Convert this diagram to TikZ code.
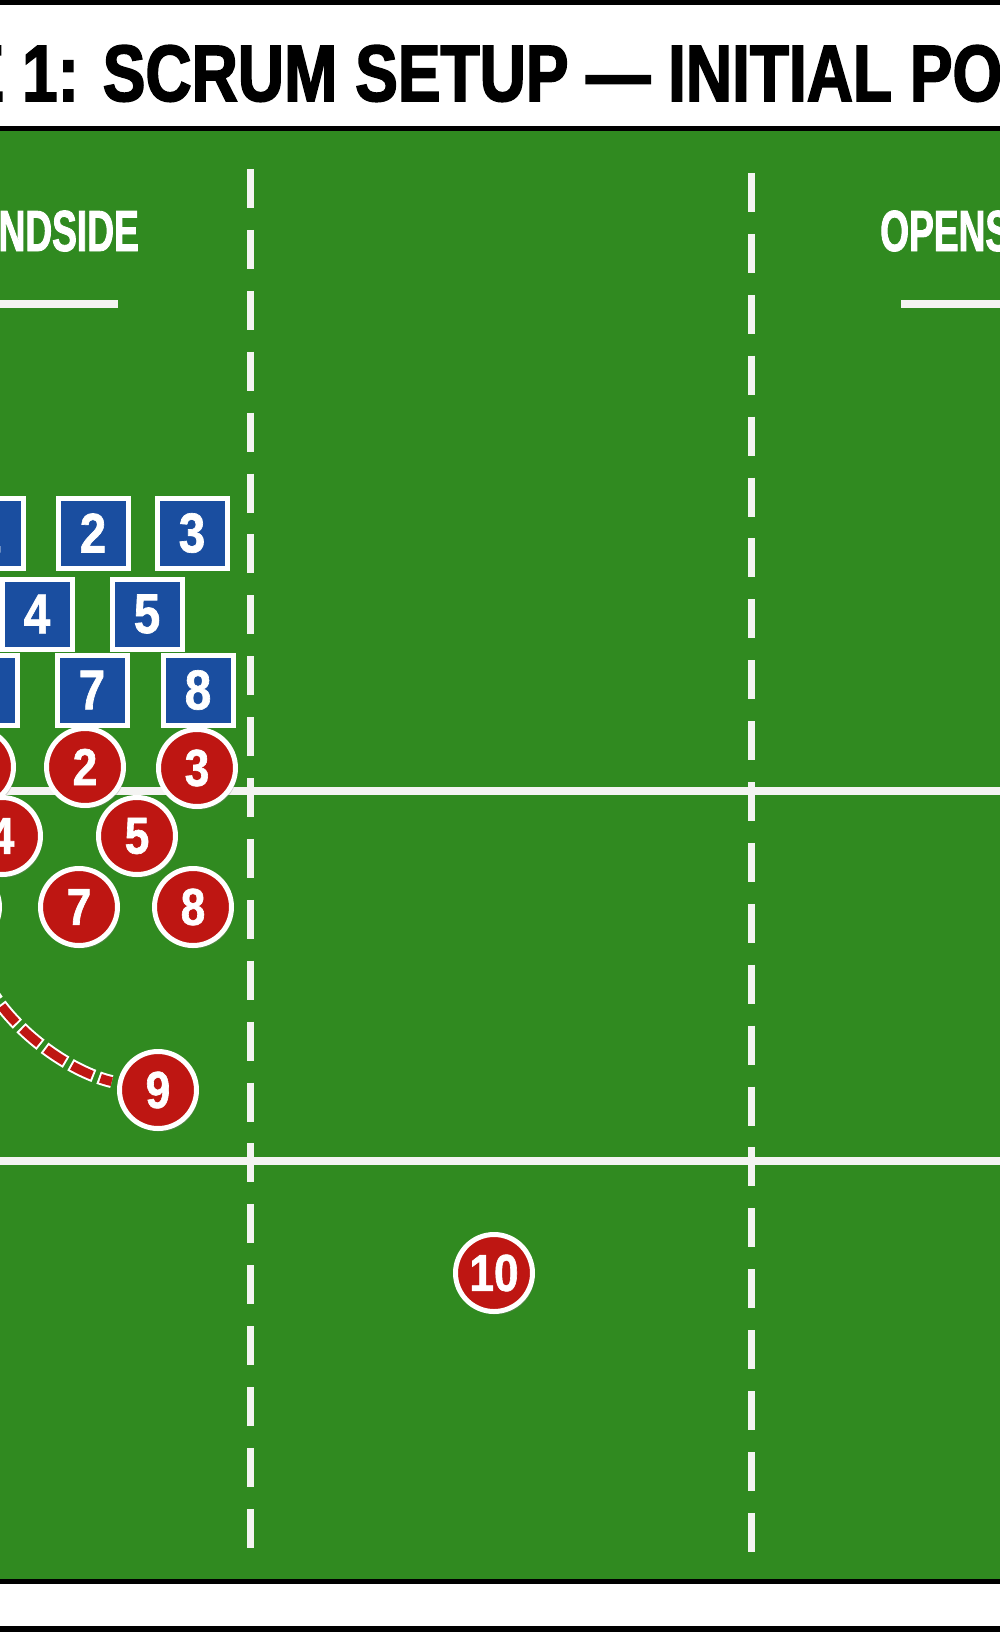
\documentclass[tikz,border=0pt]{standalone}
\usepackage{fontspec}
\setmainfont{Liberation Sans}
\newfontfamily\titlefont[FakeStretch=0.80, FakeBold=2]{Liberation Sans}
\newfontfamily\sidefont[FakeStretch=0.64, FakeBold=1.5]{Liberation Sans}
\newfontfamily\numfont[FakeStretch=0.85, FakeBold=1.2]{Liberation Sans}
\usetikzlibrary{shadows}
\definecolor{pitch}{RGB}{48,138,32}
\definecolor{chalk}{RGB}{244,244,242}
\definecolor{scrumblue}{RGB}{26,78,160}
\definecolor{scrumred}{RGB}{190,22,18}
\tikzset{%
  % Specifications for style of nodes:
            base1/.style = {draw=white, line width=5pt, inner sep=0pt,
                           text=white,
                           drop shadow={shadow xshift=2pt, shadow yshift=-3pt, opacity=.35}},
       bluebox/.style = {base1, rectangle, minimum size=70pt, fill=scrumblue,
                           font=\numfont\bfseries\fontsize{56}{56}\selectfont},
       redball/.style = {base1, circle, minimum size=77pt, fill=scrumred,
                           font=\numfont\bfseries\fontsize{52}{52}\selectfont},
       sidelabel/.style = {inner sep=0pt, text=white,
                           font=\sidefont\bfseries\fontsize{58}{58}\selectfont},
       fieldline/.style = {draw=chalk, line width=8pt},
       tenline/.style = {draw=chalk, line width=7pt, dash pattern=on 39pt off 21.9pt},
       runline/.style = {draw=scrumred, line width=9pt, dash pattern=on 22pt off 9pt,
                           preaction={draw=white, line width=13pt,
                           dash pattern=on 26pt off 5pt, dash phase=2pt}}
}

\begin{document}
\begin{tikzpicture}[x=1pt, y=-1pt]
  \useasboundingbox (0,0) rectangle (1000,1632);
  \clip (0,0) rectangle (1000,1632);
  % Frame and pitch
  \fill[white] (0,0) rectangle (1000,1632);
  \fill[black] (0,0) rectangle (1000,5);
  \fill[black] (0,126) rectangle (1000,131);
  \fill[pitch] (0,131) rectangle (1000,1579);
  \fill[black] (0,1579) rectangle (1000,1584);
  \fill[black] (0,1626) rectangle (1000,1632);
  \node (title) [anchor=base west, inner sep=0pt,
    font=\titlefont\bfseries\fontsize{80}{80}\selectfont] at (22,101)
    {\llap{PHASE\ }1: SCRUM SETUP — INITIAL POSITIONS};
  % Pitch markings
  \draw[fieldline] (0,791) -- (1000,791);
  \draw[fieldline] (0,1161) -- (1000,1161);
  \draw[tenline] (250,169) -- (250,1550);
  \draw[tenline] (751,173) -- (751,1554);
  \node (blindside) [sidelabel, anchor=base east] at (139,251) {BLINDSIDE};
  \node (openside)  [sidelabel, anchor=base west] at (880,251) {OPENSIDE};
  \draw[fieldline] (0,304) -- (118,304);
  \draw[fieldline] (901,304) -- (1000,304);
  % Specification of nodes (position, etc.)
  \node (blue1) [bluebox] at (-12,533) {1};
  \node (blue2) [bluebox] at (93,533) {2};
  \node (blue3) [bluebox] at (192,533) {3};
  \node (blue4) [bluebox] at (37,614) {4};
  \node (blue5) [bluebox] at (147,614) {5};
  \node (blue6) [bluebox] at (-18,690) {6};
  \node (blue7) [bluebox] at (92,690) {7};
  \node (blue8) [bluebox] at (198,690) {8};
  \node (red1)  [redball] at (-25,767) {1};
  \node (red2)  [redball] at (85,767) {2};
  \node (red3)  [redball] at (197,768) {3};
  \node (red4)  [redball] at (2,836) {4};
  \node (red5)  [redball] at (137,836) {5};
  \node (red6)  [redball] at (-39,907) {6};
  \node (red7)  [redball] at (79,907) {7};
  \node (red8)  [redball] at (193,907) {8};
  \node (red9)  [redball] at (158,1090) {9};
  \node (red10) [redball] at (494,1273) {10};
  \coordinate (scrumput) at (-15,980);
  \draw[runline, shorten >=6pt] (scrumput) .. controls (10,1030) and (70,1072) .. (red9.170);
\end{tikzpicture}
\end{document}
